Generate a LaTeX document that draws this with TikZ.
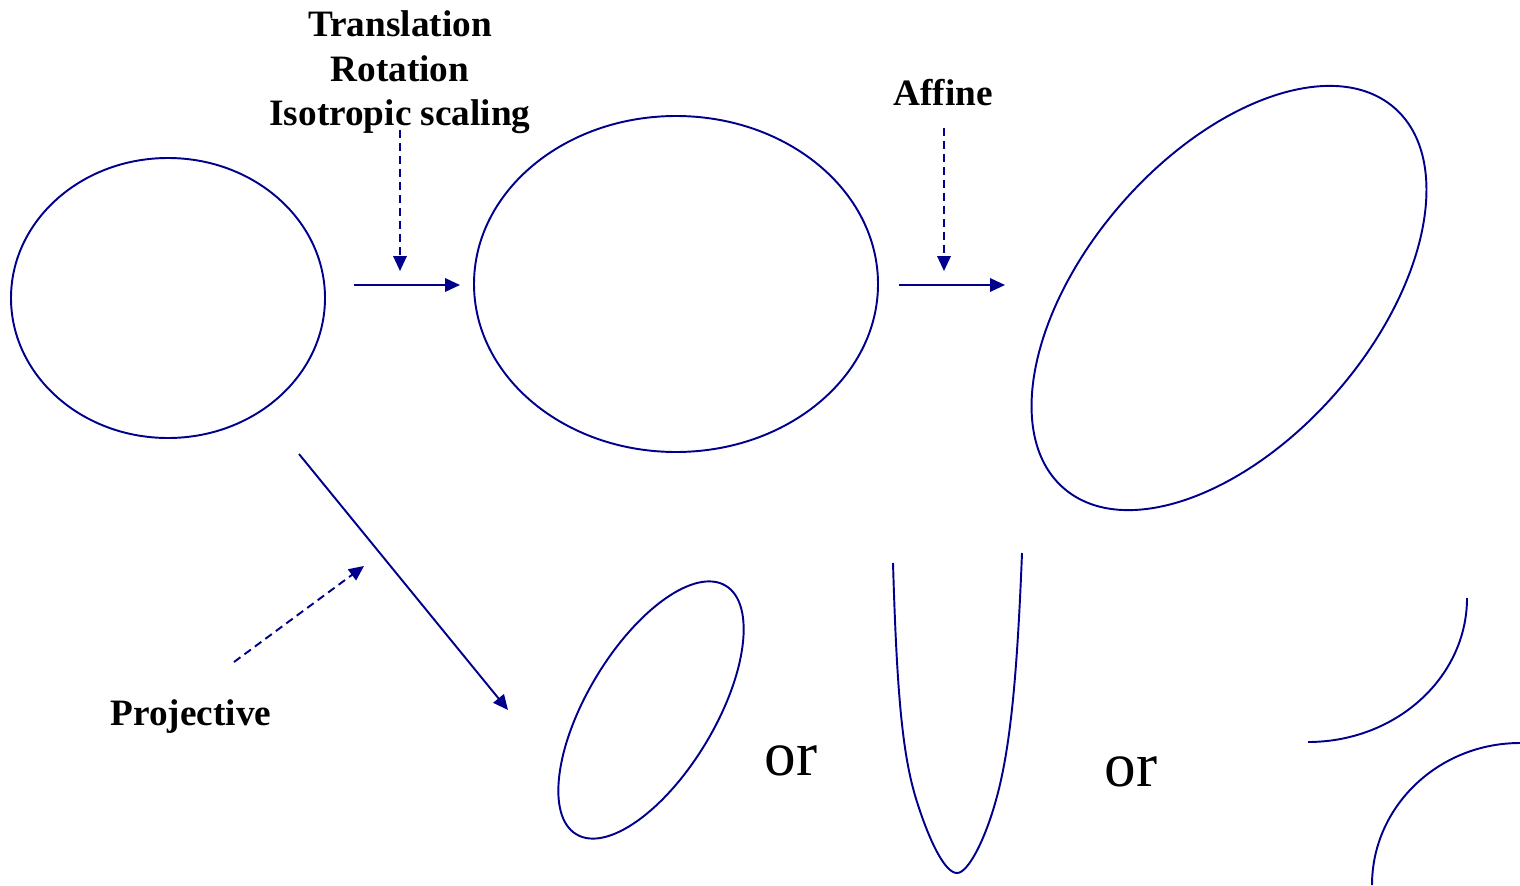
\documentclass[tikz,border=0pt]{standalone}
\usepackage{fontspec}
\setmainfont{Liberation Serif}
\usetikzlibrary{arrows.meta}
\definecolor{navy}{RGB}{0,0,140}
\begin{document}
\begin{tikzpicture}[x=0.02cm,y=-0.02cm,
  curve/.style={draw=navy,line width=1.1pt},
  arr/.style={draw=navy,line width=1.1pt,-{Triangle[length=0.3cm,width=0.27cm]}},
  darr/.style={draw=navy,line width=1.1pt,dash pattern=on 0.16cm off 0.1cm,-{Triangle[length=0.3cm,width=0.27cm]}},
  lbl/.style={font=\fontsize{21.2}{25}\selectfont\bfseries,anchor=base,inner sep=0pt},
  ortext/.style={font=\fontsize{36}{40}\selectfont,anchor=base,inner sep=0pt}]
\useasboundingbox (0,0) rectangle (1520,885);
% ellipses
\draw[curve] (168,298) ellipse [x radius=157, y radius=140];
\draw[curve] (676,284) ellipse [x radius=202, y radius=168];
\draw[curve,rotate around={49:(1229,298)}] (1229,298) ellipse [x radius=252, y radius=143];
\draw[curve,rotate around={59:(651,710)}] (651,710) ellipse [x radius=145, y radius=64];
% parabola
\draw[curve] (893,563) .. controls (897,700) and (903,760) .. (918,805)
  .. controls (930,842) and (945,873) .. (957,873)
  .. controls (968,873) and (985,840) .. (996,800)
  .. controls (1010,750) and (1017,680) .. (1022,553);
% hyperbola branches
\draw[curve] (1467,598) arc[start angle=0,end angle=90,x radius=159,y radius=144];
\draw[curve] (1520,743) arc[start angle=90,end angle=180,x radius=148,y radius=-142];
% labels
\node[lbl] (t1) at (400,37) {Translation};
\node[lbl] (t2) at (400,82) {Rotation};
\node[lbl] (t3) at (400,126) {Isotropic scaling};
\node[lbl] (aff) at (943,106) {Affine};
\node[lbl] (proj) at (191,725) {Projective};
\node[ortext] (or1) at (791,775) {or};
\node[ortext] (or2) at (1131,786) {or};
% arrow coordinates
\coordinate (a1s) at (354,285); \coordinate (a1e) at (460,285);
\coordinate (d1s) at (400,130); \coordinate (d1e) at (400,271);
\coordinate (a2s) at (899,285); \coordinate (a2e) at (1005,285);
\coordinate (d2s) at (944,128); \coordinate (d2e) at (944,271);
\coordinate (a3s) at (299,454); \coordinate (a3e) at (508,710);
\coordinate (d3s) at (234,662); \coordinate (d3e) at (364,566);
\draw[arr] (a1s) -- (a1e);
\draw[darr] (d1s) -- (d1e);
\draw[arr] (a2s) -- (a2e);
\draw[darr] (d2s) -- (d2e);
\draw[arr] (a3s) -- (a3e);
\draw[darr] (d3s) -- (d3e);
\end{tikzpicture}
\end{document}
